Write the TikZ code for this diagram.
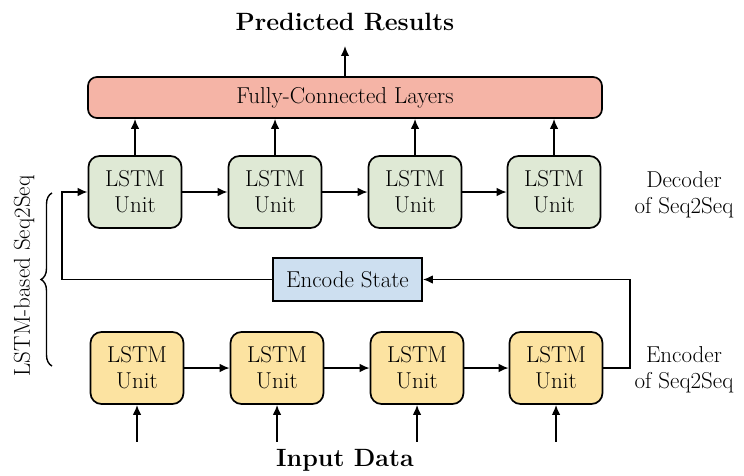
\documentclass[tikz,border=0pt]{standalone}
\usepackage{fontspec}
\usetikzlibrary{arrows.meta,decorations.pathreplacing}
\definecolor{fcpink}{HTML}{F5B4A6}
\definecolor{decgreen}{HTML}{DFE9D5}
\definecolor{encyellow}{HTML}{FCE3A1}
\definecolor{stateblue}{HTML}{CDDFF0}
\tikzset{
  txt/.style={font=\fontsize{23}{26}\selectfont},
  unitbox/.style={draw, line width=1.7pt, rounded corners=11pt, align=center,
    minimum width=93pt, minimum height=72pt, inner sep=0pt, txt},
  dec/.style={unitbox, fill=decgreen},
  enc/.style={unitbox, fill=encyellow},
  fcbox/.style={draw, line width=1.7pt, rounded corners=9pt, fill=fcpink,
    minimum width=514pt, minimum height=41pt, inner sep=0pt, txt},
  statebox/.style={draw, line width=1.7pt, fill=stateblue,
    minimum width=149pt, minimum height=43pt, inner sep=0pt, txt},
  title/.style={font=\fontsize{25}{28}\selectfont\bfseries},
  side/.style={txt, align=center},
  arr/.style={line width=1.6pt, -{Latex[length=10pt,width=8.5pt]}},
}
\begin{document}
\begin{tikzpicture}[x=1pt,y=-1pt]
\useasboundingbox (0,0) rectangle (744,476);

% titles
\node[title] (pred) at (345,22) {Predicted Results};
\node[title] (input) at (345,460) {Input Data};

% fully-connected layer
\node[fcbox] (fc) at (345,97.5) {Fully-Connected Layers};

% decoder row
\node[dec] (d1) at (135,192) {LSTM\\Unit};
\node[dec] (d2) at (275,192) {LSTM\\Unit};
\node[dec] (d3) at (415,192) {LSTM\\Unit};
\node[dec] (d4) at (554,192) {LSTM\\Unit};

% encoder row
\node[enc] (e1) at (137,368) {LSTM\\Unit};
\node[enc] (e2) at (277,368) {LSTM\\Unit};
\node[enc] (e3) at (417,368) {LSTM\\Unit};
\node[enc] (e4) at (556,368) {LSTM\\Unit};

% encoded state
\node[statebox] (es) at (347.5,279.5) {Encode State};

% side labels
\node[side] (declab) at (684,195) {Decoder\\of Seq2Seq};
\node[side] (enclab) at (684,370) {Encoder\\of Seq2Seq};

% output arrow
\coordinate (predin) at (345,46);
\draw[arr] (fc.north) -- (predin);

% decoder outputs to FC layer
\foreach \d in {d1,d2,d3,d4}
  \draw[arr] (\d.north) -- (\d.north |- fc.south);

% recurrent links
\draw[arr] (d1) -- (d2);
\draw[arr] (d2) -- (d3);
\draw[arr] (d3) -- (d4);
\draw[arr] (e1) -- (e2);
\draw[arr] (e2) -- (e3);
\draw[arr] (e3) -- (e4);

% inputs into encoder
\foreach \e in {e1,e2,e3,e4}
  \draw[arr] ([yshift=-37pt]\e.south) -- (\e.south);

% encoder -> state -> decoder
\coordinate (turnR) at (630,368);
\coordinate (turnL) at (62,279.5);
\draw[arr, line join=miter] (e4.east) -- (turnR) |- (es.east);
\draw[arr, line join=miter] (es.west) -- (turnL) |- (d1.west);

% brace grouping both rows
\coordinate (brB) at (52,366);
\coordinate (brT) at (52,193);
\draw[line width=1.4pt, decorate, decoration={brace, amplitude=11pt}] (brB) -- (brT);
\node[txt, rotate=90] (seqlab) at (24,276) {LSTM-based Seq2Seq};
\end{tikzpicture}
\end{document}
